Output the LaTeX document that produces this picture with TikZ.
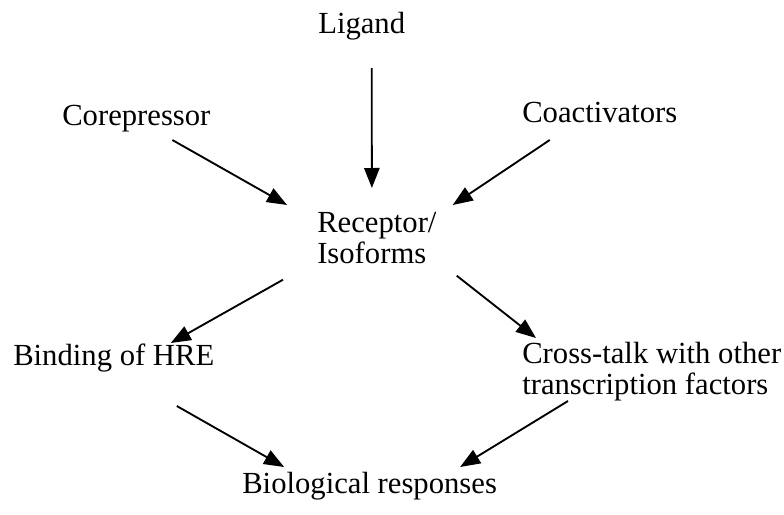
\documentclass[tikz,border=0pt]{standalone}
\usepackage{fontspec}
\setmainfont{Liberation Serif}
\usetikzlibrary{arrows.meta}

\begin{document}
\begin{tikzpicture}[x=0.75pt,y=-0.75pt,
		lbl/.style={inner sep=0pt,anchor=base west,font=\fontsize{23}{23}\selectfont},
		lbltwo/.style={lbl,anchor=north west,align=left},
		arr/.style={line width=1.4pt,-{Triangle[length=15pt,width=11.5pt]}}]
		\useasboundingbox (0,0) rectangle (784,514);
		\node[lbl] (lig) at (318,33) {Ligand};
		\node[lbl] (cor) at (62,125) {Corepressor};
		\node[lbl] (coa) at (522,122) {Coactivators};
		\node[lbltwo] (rec) at (317,212) {Receptor/\\Isoforms};
		\node[lbl] (bind) at (13,365) {Binding of HRE};
		\node[lbltwo] (crs) at (522,342) {Cross-talk with other\\transcription factors};
		\node[lbl] (bio) at (242,493) {Biological responses};
		\draw[arr] ([shift={(10,35)}]lig.base) -- ([shift={(-5,-24)}]rec.north);
		\draw[arr] ([shift={(36,15)}]cor.base) -- ([shift={(-30,-7)}]rec.north west);
		\draw[arr] ([shift={(-50,18)}]coa.base) -- ([shift={(16,-7)}]rec.north east);
		\draw[arr] ([shift={(-34,16)}]rec.south west) -- ([shift={(57,-22)}]bind.base);
		\draw[arr] ([shift={(20,12)}]rec.south east) -- ([shift={(14,-4)}]crs.north west);
		\draw[arr] ([shift={(63,41)}]bind.base) -- ([shift={(-85.5,-26)}]bio.base);
		\draw[arr] ([shift={(46,0)}]crs.south west) -- ([shift={(90.5,-26)}]bio.base);
	\end{tikzpicture}
\end{document}
